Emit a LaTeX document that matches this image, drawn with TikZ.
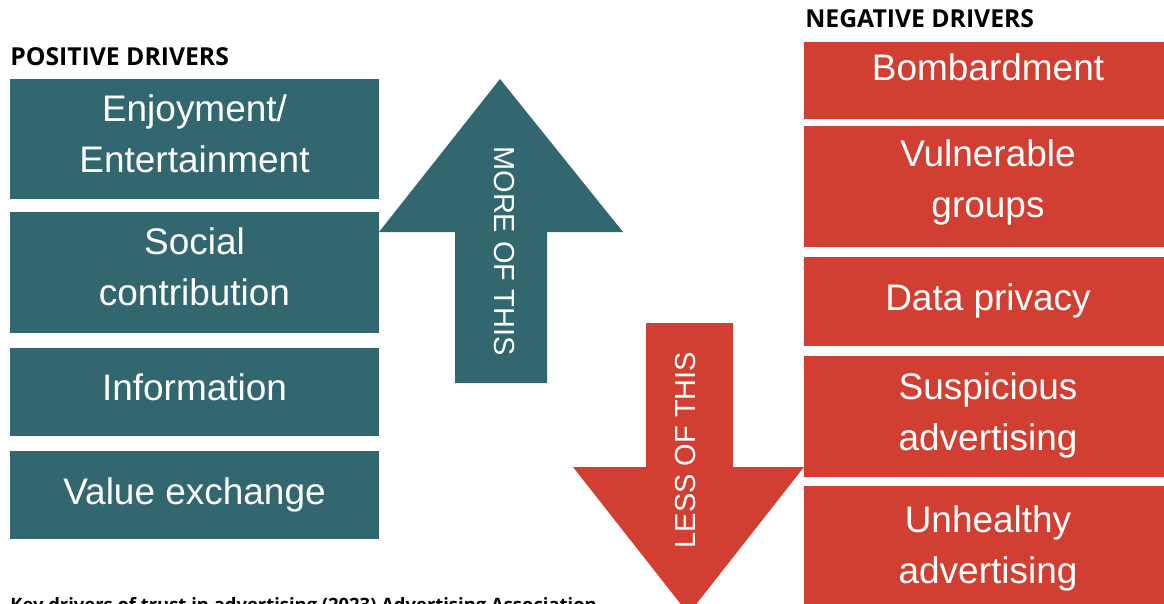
\documentclass[tikz,border=0pt]{standalone}
\usepackage{fontspec}
\usepackage{tikz}
\setmainfont{Liberation Sans}
\newfontfamily\headfam{Open Sans}
\definecolor{drv_teal}{RGB}{51, 103, 112}
\definecolor{drv_red}{RGB}{209, 62, 50}
\newcommand{\boxfont}{\fontsize{26.3}{35.6}\selectfont}
\newcommand{\cuefont}{\fontsize{20.6}{24}\selectfont}
\newcommand{\headfont}{\headfam\bfseries\fontsize{17.6}{21}\selectfont}
\newcommand{\notefont}{\headfam\bfseries\fontsize{13.1}{16}\selectfont}
\tikzstyle{posbox}=[rectangle,fill=drv_teal,draw=none,inner sep=0pt,
  minimum width=9.225cm]
\tikzstyle{negbox}=[rectangle,fill=drv_red,draw=none,inner sep=0pt,
  minimum width=9.2cm]
% base anchor sits on the last line of a label
\tikzstyle{lbl}=[text=white,font=\boxfont,align=center,anchor=base,inner sep=0pt]
\tikzstyle{cue}=[text=white,font=\cuefont,inner sep=0pt]
\tikzstyle{heading}=[font=\headfont,anchor=base west,inner sep=0pt]
\tikzstyle{none}=[]

\begin{document}
\begin{tikzpicture}
		\useasboundingbox (0, 0) rectangle (29.1, -15.1);
		\clip (0, 0) rectangle (29.1, -15.1);
		% positive side
		\node [style=heading] (0) at (0.25, -1.65) {POSITIVE DRIVERS};
		\node [style=posbox, minimum height=3cm] (1) at (4.8625, -3.475) {};
		\node [style=posbox, minimum height=3.025cm] (2) at (4.8625, -6.8125) {};
		\node [style=posbox, minimum height=2.2cm] (3) at (4.8625, -9.8) {};
		\node [style=posbox, minimum height=2.2cm] (4) at (4.8625, -12.375) {};
		\node [style=lbl] (5) at (4.8625, -4.3) {Enjoyment/\\Entertainment};
		\node [style=lbl] (6) at (4.8625, -7.625) {Social\\contribution};
		\node [style=lbl] (7) at (4.8625, -10) {Information};
		\node [style=lbl] (8) at (4.8625, -12.6) {Value exchange};
		% up arrow
		\fill [drv_teal] (12.5, -1.975) -- (15.575, -5.8) -- (13.675, -5.8)
			-- (13.675, -9.575) -- (11.375, -9.575) -- (11.375, -5.8)
			-- (9.475, -5.8) -- cycle;
		\node [style=cue, rotate=-90] (9) at (12.6125, -6.275) {MORE OF THIS};
		% down arrow
		\fill [drv_red] (16.15, -8.075) -- (18.325, -8.075) -- (18.325, -11.675)
			-- (20.1, -11.675) -- (17.2125, -15.35) -- (14.325, -11.675)
			-- (16.15, -11.675) -- cycle;
		\node [style=cue, rotate=90] (10) at (17.15, -11.25) {LESS OF THIS};
		% negative side
		\node [style=heading] (11) at (20.125, -0.7) {NEGATIVE DRIVERS};
		\node [style=negbox, minimum height=1.925cm] (12) at (24.7, -2.0125) {};
		\node [style=negbox, minimum height=3.025cm] (13) at (24.7, -4.6625) {};
		\node [style=negbox, minimum height=2.225cm] (14) at (24.7, -7.5375) {};
		\node [style=negbox, minimum height=3.025cm] (15) at (24.7, -10.4125) {};
		\node [style=negbox, minimum height=3.1cm] (16) at (24.7, -13.7) {};
		\node [style=lbl] (17) at (24.7, -2) {Bombardment};
		\node [style=lbl] (18) at (24.7, -5.425) {Vulnerable\\groups};
		\node [style=lbl] (19) at (24.7, -7.75) {Data privacy};
		\node [style=lbl] (20) at (24.7, -11.25) {Suspicious\\advertising};
		\node [style=lbl] (21) at (24.7, -14.575) {Unhealthy\\advertising};
		% source line, cut by the page edge
		\node [font=\notefont, anchor=base west, inner sep=0pt] (22) at (0.25, -15.275)
			{Key drivers of trust in advertising (2023) Advertising Association};
\end{tikzpicture}
\end{document}
